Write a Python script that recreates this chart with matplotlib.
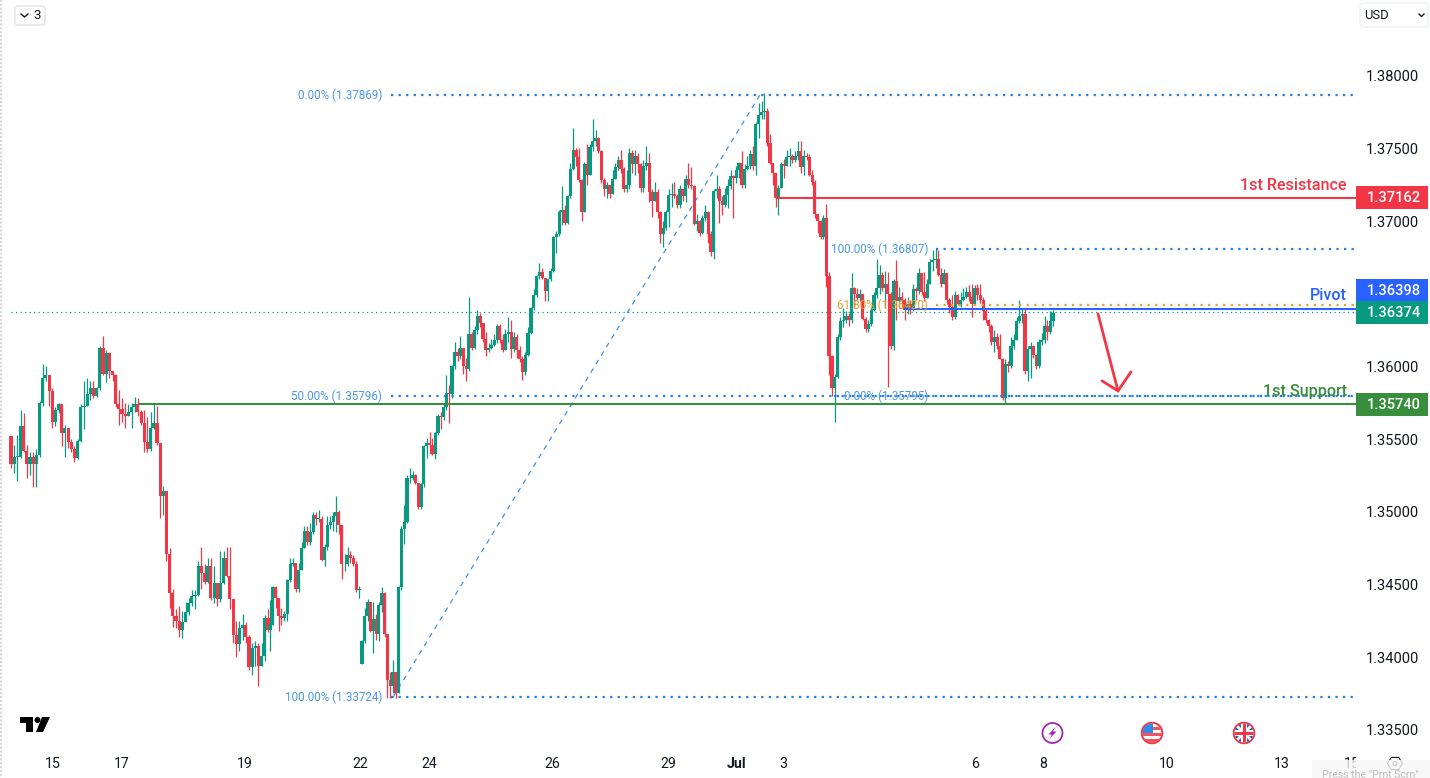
import numpy as np
import matplotlib
matplotlib.use("Agg")
import matplotlib.pyplot as plt
from matplotlib.patches import Circle, FancyBboxPatch, Polygon, Rectangle
from matplotlib.transforms import Bbox

W, H = 1430, 778
plt.rcParams['font.family'] = ['Roboto', 'DejaVu Sans']

# ---- candles, prices in 1/10000 -------------------------------------------
close_a = [13533,13538,13538,13559,13542,13533,13538,13533,13539,13575,
           13592,13594,13583,13562,13570,13574,13554,13558,13548,13543,
           13537,13549,13572,13573,13581,13585,13580,13585,13613,13595,
           13609,13597,13594,13574,13571,13567,13566,13569,13572,13574,
           13569,13561,13548,13543,13558,13561,13547,13511,13514,13471,
           13444,13428,13425,13419,13424,13431,13437,13442,13443,13463,
           13458,13452,13463,13441,13451,13440,13451,13468,13456,13440,
           13415,13409,13420,13422,13414,13393,13406,13408,13394,13401,
           13427,13419]
high_a  = [13552,13546,13553,13570,13568,13546,13541,13541,13543,13576,
           13602,13600,13594,13585,13572,13575,13560,13560,13558,13550,
           13545,13550,13574,13590,13592,13590,13590,13586,13614,13621,
           13611,13610,13597,13595,13584,13578,13575,13574,13575,13579,
           13578,13570,13570,13565,13569,13574,13573,13545,13518,13514,
           13475,13447,13433,13435,13432,13438,13441,13446,13446,13466,
           13476,13464,13468,13468,13463,13449,13473,13473,13476,13476,
           13440,13425,13425,13430,13424,13415,13410,13411,13410,13410,
           13429,13433]
low_a   = [13530,13527,13521,13537,13541,13523,13525,13517,13517,13538,
           13573,13590,13573,13558,13559,13568,13545,13538,13544,13541,
           13534,13536,13548,13557,13577,13577,13578,13579,13584,13594,
           13589,13592,13590,13572,13560,13562,13558,13566,13558,13569,
           13566,13560,13541,13541,13542,13557,13546,13496,13498,13466,
           13434,13421,13420,13414,13413,13424,13429,13435,13433,13442,
           13447,13450,13451,13439,13437,13435,13438,13450,13455,13433,
           13410,13400,13404,13412,13410,13391,13388,13394,13380,13395,
           13397,13417]

close_b = [13422,13448,13441,13428,13427,13430,13453,13464,13465,13447,
           13460,13475,13487,13479,13486,13498,13495,13495,13467,13476,
           13491,13493,13497,13500,13491,13464,13464,13470,13468,13464,
           13446,13447]
high_b  = [13439,13449,13449,13436,13434,13432,13454,13468,13468,13465,
           13465,13479,13490,13490,13492,13500,13500,13501,13497,13478,
           13497,13497,13500,13511,13501,13490,13471,13476,13473,13470,
           13466,13449]
low_b   = [13404,13425,13434,13418,13422,13425,13425,13452,13463,13445,
           13445,13466,13475,13477,13477,13485,13491,13493,13466,13463,
           13474,13488,13487,13486,13485,13454,13459,13463,13465,13463,
           13445,13441]

session_open_c = 13395
close_c = [13411,13428,13438,13418,13426,13416,13436,13444,13416,13384,
           13380,13390,13375,13448,13488,13493,13523,13523,13525,13520,
           13503,13519,13545,13547,13546,13540,13554,13566,13565,13572,
           13582,13581,13600,13610,13607,13613,13600,13598,13622,13613,
           13625,13635,13630,13619,13611,13613,13615,13618,13628,13618,
           13611,13622,13624,13612,13620,13611,13605,13596,13608,13623]
high_c  = [13412,13434,13440,13438,13438,13430,13438,13448,13445,13416,
           13390,13398,13390,13449,13490,13505,13525,13530,13528,13526,
           13520,13520,13546,13551,13555,13551,13555,13567,13569,13575,
           13594,13587,13601,13617,13613,13621,13613,13606,13648,13624,
           13628,13639,13637,13630,13624,13616,13619,13622,13629,13629,
           13622,13626,13634,13632,13624,13622,13614,13607,13610,13627]
low_c   = [13395,13410,13425,13417,13403,13412,13411,13431,13414,13372,
           13372,13375,13372,13375,13446,13478,13492,13520,13522,13519,
           13502,13502,13517,13537,13540,13539,13536,13553,13557,13563,
           13570,13561,13578,13598,13604,13605,13595,13590,13597,13611,
           13612,13622,13627,13617,13607,13610,13612,13614,13616,13616,
           13610,13613,13617,13606,13610,13606,13603,13591,13594,13607]

close_d = [13640,13649,13662,13665,13661,13652,13660,13666,13689,13691,
           13706,13708,13699,13717,13736,13749,13744,13728,13706,13739,
           13732,13751,13755,13757,13748,13728,13722,13725,13719,13729,
           13737,13742,13736,13722,13725,13747,13739,13745,13739,13723,
           13738,13740,13720,13714,13720,13706,13691,13695,13706,13718,
           13719,13717,13711,13722,13717,13729,13725,13724,13698,13700,
           13692,13702,13706,13691,13679,13721,13722,13714,13711,13718,
           13724,13731,13730,13735,13740,13725,13736,13738,13746,13738,
           13767,13773,13775,13776,13754,13740,13733,13716,13723,13739,
           13738,13744,13745,13742,13745,13748,13737,13745,13744,13732,
           13727,13705,13700,13689,13702,13662,13607]
high_d  = [13641,13653,13663,13671,13668,13661,13661,13668,13690,13693,
           13708,13724,13711,13718,13740,13764,13750,13750,13729,13741,
           13753,13753,13770,13763,13758,13749,13730,13727,13725,13735,
           13740,13745,13749,13737,13735,13750,13749,13749,13747,13740,
           13742,13752,13747,13722,13727,13722,13707,13700,13708,13722,
           13726,13727,13719,13725,13720,13732,13740,13737,13725,13705,
           13701,13704,13711,13707,13693,13722,13732,13724,13717,13723,
           13729,13735,13732,13738,13741,13748,13739,13745,13749,13752,
           13768,13781,13783,13788,13778,13760,13740,13733,13725,13741,
           13743,13749,13750,13746,13748,13755,13755,13749,13747,13746,
           13735,13728,13705,13701,13704,13712,13665]
low_d   = [13622,13639,13648,13660,13660,13645,13645,13659,13665,13678,
           13690,13697,13697,13698,13716,13735,13738,13727,13700,13707,
           13725,13732,13748,13752,13747,13726,13717,13716,13716,13722,
           13730,13735,13733,13720,13720,13722,13733,13732,13733,13720,
           13720,13735,13713,13703,13714,13702,13685,13682,13694,13696,
           13710,13716,13709,13709,13714,13713,13723,13722,13697,13693,
           13690,13691,13700,13685,13676,13674,13716,13699,13704,13710,
           13709,13722,13702,13726,13730,13723,13723,13735,13736,13735,
           13732,13757,13770,13770,13752,13739,13725,13710,13704,13723,
           13730,13738,13738,13740,13741,13742,13733,13732,13742,13731,
           13725,13702,13692,13688,13688,13655,13594]

close_e = [13585,13593,13620,13631,13632,13635,13632,13654,13650,13647,
           13650,13633,13626,13629,13639,13649,13654,13663,13654,13657,
           13650,13614,13659,13645,13648,13646,13639,13643,13640,13653,
           13652,13664,13651,13647,13657,13672,13673,13674,13663,13657,
           13664,13646,13641,13634,13649,13643,13646,13648,13651,13648,
           13643,13654,13649,13646,13638,13632,13628,13617,13620,13614,
           13605,13578,13602,13600,13614,13618,13631,13635,13636,13597,
           13612,13614,13608,13600,13617,13618,13628,13624,13631,13637]
high_e  = [13608,13595,13622,13634,13640,13638,13637,13664,13655,13654,
           13653,13649,13634,13632,13641,13651,13674,13670,13665,13666,
           13665,13651,13660,13673,13655,13651,13647,13648,13646,13657,
           13655,13668,13664,13665,13660,13674,13680,13681,13680,13668,
           13667,13658,13647,13649,13652,13650,13651,13654,13655,13656,
           13657,13656,13657,13657,13648,13640,13633,13629,13625,13623,
           13622,13606,13605,13604,13620,13622,13634,13646,13640,13640,
           13614,13617,13615,13608,13619,13623,13635,13632,13638,13639]
low_e   = [13580,13562,13592,13618,13627,13630,13628,13630,13640,13645,
           13645,13632,13624,13624,13628,13638,13647,13650,13652,13640,
           13586,13612,13611,13632,13640,13640,13632,13636,13636,13638,
           13646,13650,13649,13645,13647,13657,13666,13668,13662,13655,
           13657,13643,13637,13632,13633,13642,13641,13645,13647,13645,
           13634,13645,13646,13644,13632,13630,13624,13615,13610,13612,
           13605,13577,13574,13596,13599,13612,13618,13630,13630,13595,
           13590,13592,13606,13598,13599,13615,13616,13618,13622,13628]

# ---- levels / labels -------------------------------------------------------
price_ticks = [1.38, 1.375, 1.37, 1.36, 1.355, 1.35, 1.345, 1.34, 1.335]
time_ticks = [53, 122, 245, 360, 429, 552, 668, 737, 783, 975, 1043, 1167, 1282, 1352]
time_labels = ['15', '17', '19', '22', '24', '26', '29', 'Jul', '3', '6', '8', '10', '13', '15']
fib_big = [(0.0, 1.37869), (50.0, 1.35796), (100.0, 1.33724)]
fib_small = [(100.0, 1.36807), (0.0, 1.35795)]
fib_618 = 1.36420
last_price = 1.36374
resistance, pivot, support = 1.37162, 1.36398, 1.35740

GREEN, RED = '#089981', '#F23645'
BLUE = '#2962FF'
LEVEL_GREEN = '#388E3C'
FIB_BLUE = '#1E7FE0'
FIB_TEXT = '#4C97E6'
ORANGE = '#E5A12E'
TEXT = '#131722'

# ---- figure: main pane 0..1357 px wide, 0..750 px tall ---------------------
fig = plt.figure(figsize=(W / 100, H / 100), dpi=100, facecolor='white')
ax = fig.add_axes([0, 1 - 750 / H, 1357 / W, 750 / H])
ax.set_xlim(0, 1357)
y_of = lambda px: 1.38 - (px - 75.8) * 0.045 / 654
ax.set_ylim(y_of(750), y_of(0))
for s in ax.spines.values():
    s.set_visible(False)
ax.yaxis.tick_right()
ax.set_yticks(price_ticks)
ax.set_yticklabels([f'{p:.5f}' for p in price_ticks], fontsize=10.5, color=TEXT)
ax.set_xticks(time_ticks)
ax.set_xticklabels(time_labels, fontsize=10.2, color=TEXT)
ax.tick_params(axis='both', length=0)
ax.tick_params(axis='y', pad=6.5)
ax.tick_params(axis='x', pad=5)
for lab in ax.get_xticklabels():
    if lab.get_text() == 'Jul':
        lab.set_fontweight('bold')
last_lab = ax.get_xticklabels()[-1]
last_lab.set_clip_box(Bbox([[0, 0], [1356, H]]))
last_lab.set_clip_on(True)

# ---- candles ---------------------------------------------------------------
chunks = [(close_a, high_a, low_a, 11, 268, None),
          (close_b, high_b, low_b, 270, 359, None),
          (close_c, high_c, low_c, 362, 528, session_open_c),
          (close_d, high_d, low_d, 531, 829, None),
          (close_e, high_e, low_e, 832, 1053, None)]
xs, o, c, h, l = [], [], [], [], []
prev = 13552
for cl, hi, lo, x0, x1, first in chunks:
    assert len(cl) == len(hi) == len(lo)
    if first is not None:
        prev = first
    xs.extend(np.linspace(x0, x1, len(cl)))
    for a, b, d in zip(cl, hi, lo):
        o.append(prev); c.append(a); h.append(max(b, a, prev)); l.append(min(d, a, prev))
        prev = a
xs = np.array(xs)
o, c, h, l = [np.array(v) / 1e4 for v in (o, c, h, l)]
cols = np.where(c >= o, GREEN, RED)
ax.vlines(xs, l, h, colors=cols, linewidth=0.9, zorder=3)
ax.bar(xs, np.maximum(np.abs(c - o), 0.00004), bottom=np.minimum(o, c), width=3.1,
       color=cols, linewidth=0, zorder=3)

# ---- fibonacci -------------------------------------------------------------
dot = dict(linestyle=(0, (1, 2.4)), linewidth=1.6, color=FIB_BLUE, zorder=4)
for pct, p in fib_big:
    ax.plot([391, 1355], [p, p], **dot)
    ax.text(382, p, f'{pct:.2f}% ({p:.5f})', color=FIB_TEXT, fontsize=8.4, ha='right', va='center', zorder=6)
ax.plot([393, 760], [fib_big[2][1], fib_big[0][1]], color=FIB_BLUE, linewidth=0.9,
        linestyle=(0, (4, 4)), alpha=0.85, zorder=4)
ax.plot([936, 1355], [fib_small[0][1]] * 2, **dot)
ax.plot([834, 1355], [fib_small[1][1]] * 2, **dot)
ax.plot([936, 1355], [fib_618] * 2, linestyle=(0, (1, 2.4)), linewidth=1.6, color=ORANGE, zorder=4)
for pct, p in fib_small:
    ax.text(928, p, f'{pct:.2f}% ({p:.5f})', color=FIB_TEXT, fontsize=8.4, ha='right', va='center', zorder=6)
ax.text(928, fib_618, f'61.80% ({fib_618:.5f})', color=ORANGE, fontsize=8.4, ha='right', va='center', zorder=6)

# ---- levels ----------------------------------------------------------------
ax.plot([11, 1355], [last_price] * 2, color=GREEN, linewidth=0.9, linestyle=(0, (1, 2.6)), zorder=2)
ax.plot([777, 1355], [resistance] * 2, color=RED, linewidth=1.5, zorder=5)
ax.plot([905, 1355], [pivot] * 2, color=BLUE, linewidth=1.5, zorder=5)
ax.plot([140, 1355], [support] * 2, color=LEVEL_GREEN, linewidth=1.5, zorder=5)
ax.text(1347, resistance + 0.00082, '1st Resistance', color=RED, fontsize=11.6, fontweight='medium', ha='right', va='center', zorder=6)
ax.text(1347, pivot + 0.00088, 'Pivot', color=BLUE, fontsize=11.6, fontweight='medium', ha='right', va='center', zorder=6)
ax.text(1347, support + 0.00090, '1st Support', color=LEVEL_GREEN, fontsize=11.6, fontweight='medium', ha='right', va='center', zorder=6)

# hand-drawn arrow
ax.plot([1098, 1118], [1.36362, 1.35832], color=RED, linewidth=2, solid_capstyle='round', zorder=6)
ax.plot([1102, 1118, 1131], [1.35901, 1.35832, 1.35963], color=RED, linewidth=2,
        solid_capstyle='round', solid_joinstyle='miter', zorder=6)

# ---- overlay in pixels: tags, buttons, logos, icons ------------------------
ov = fig.add_axes([0, 0, 1, 1], facecolor='none')
ov.set_xlim(0, W); ov.set_ylim(H, 0); ov.axis('off')


def tag(yc, txt, col):
    ov.add_patch(Rectangle((1356, yc - 11.3), 72, 22.6, facecolor=col, edgecolor='none', zorder=5))
    ov.text(1394, yc + 0.5, txt, color='white', fontsize=10.5, fontweight='medium', ha='center', va='center', zorder=6)


tag(197.5, f'{resistance:.5f}', RED)
tag(290, f'{pivot:.5f}', BLUE)
tag(312.5, f'{last_price:.5f}', GREEN)
tag(404.5, f'{support:.5f}', LEVEL_GREEN)

# left strip
ov.plot([1, 1], [0, H], color='#D4D4D4', linewidth=1.4, linestyle=(0, (1, 1)))

# buttons
ov.add_patch(FancyBboxPatch((15, 6), 30, 19, boxstyle='round,pad=0,rounding_size=3', facecolor='white', edgecolor='#E0E3EB', linewidth=1))
ov.plot([21, 24.5, 28], [14, 17, 14], color=TEXT, linewidth=1)
ov.text(37.5, 15.5, '3', fontsize=9.5, color=TEXT, ha='center', va='center')
ov.add_patch(FancyBboxPatch((1360, 3), 68, 24, boxstyle='round,pad=0,rounding_size=4', facecolor='white', edgecolor='#EEF0F4', linewidth=1))
ov.text(1364, 15, 'USD', fontsize=9.4, color=TEXT, ha='left', va='center')
ov.plot([1419, 1421.5, 1424], [14, 16.5, 14], color=TEXT, linewidth=1)

# TradingView logo
ov.add_patch(Polygon([(20, 717), (33, 717), (33, 732), (26, 732), (26, 723), (20, 723)], facecolor='black', edgecolor='none'))
ov.add_patch(Circle((37.5, 720), 3, facecolor='black', edgecolor='none'))
ov.add_patch(Polygon([(42, 717), (50, 717), (43, 732), (36, 732)], facecolor='black', edgecolor='none'))

# event icons
ov.add_patch(Circle((1052.5, 733), 10, facecolor='white', edgecolor='#9C27B0', linewidth=1.3))
ov.add_patch(Polygon([(1055.5, 727), (1048.5, 734.5), (1052, 734.5), (1049.5, 739), (1056.5, 731.5), (1053, 731.5)], facecolor='#9C27B0', edgecolor='none'))


def flag(xc, kind):
    clip = Circle((xc, 733), 9.5, transform=ov.transData)
    ov.add_patch(Circle((xc, 733), 10.3, facecolor='white', edgecolor=RED, linewidth=1.4, zorder=3))
    parts = []
    if kind == 'us':
        for y0 in (727, 733, 739):
            parts.append(Rectangle((xc - 10, y0), 20, 2.8, facecolor='#F2545F', edgecolor='none'))
        parts.append(Rectangle((xc - 10, 723), 11, 10, facecolor='#2F8FEA', edgecolor='none'))
    else:
        parts.append(Rectangle((xc - 10, 723), 20, 20, facecolor='#2A5CC4', edgecolor='none'))
        parts.append(Polygon([(xc - 10, 725), (xc - 8, 723), (xc + 10, 741), (xc + 8, 743)], facecolor='white', edgecolor='none'))
        parts.append(Polygon([(xc + 10, 725), (xc + 8, 723), (xc - 10, 741), (xc - 8, 743)], facecolor='white', edgecolor='none'))
        parts.append(Rectangle((xc - 10, 730), 20, 6, facecolor='white', edgecolor='none'))
        parts.append(Rectangle((xc - 3, 723), 6, 20, facecolor='white', edgecolor='none'))
        parts.append(Rectangle((xc - 10, 731.5), 20, 3, facecolor=RED, edgecolor='none'))
        parts.append(Rectangle((xc - 1.5, 723), 3, 20, facecolor=RED, edgecolor='none'))
    for p in parts:
        p.set_zorder(4)
        ov.add_patch(p)
        p.set_clip_path(clip)


flag(1152, 'us')
flag(1244, 'uk')

# settings hexagon
ang = np.deg2rad(np.arange(0, 360, 60))
ov.add_patch(Polygon(np.c_[1395 + 7.5 * np.cos(ang), 763.5 + 7 * np.sin(ang)], facecolor='none', edgecolor=TEXT, linewidth=0.8))
ov.add_patch(Circle((1395, 763.5), 2, facecolor='none', edgecolor=TEXT, linewidth=0.8))

# screenshot hint at the bottom corner
ov.add_patch(Rectangle((1312, 760), 118, 18, facecolor='#F7F7F7', edgecolor='none', alpha=0.8, zorder=1))
ov.text(1322, 775, 'Press the "Prnt Scrn"', fontsize=7.6, color='#BDBDBD', ha='left', va='center', clip_on=True)

fig.savefig('out.png', dpi=100, facecolor='white')
